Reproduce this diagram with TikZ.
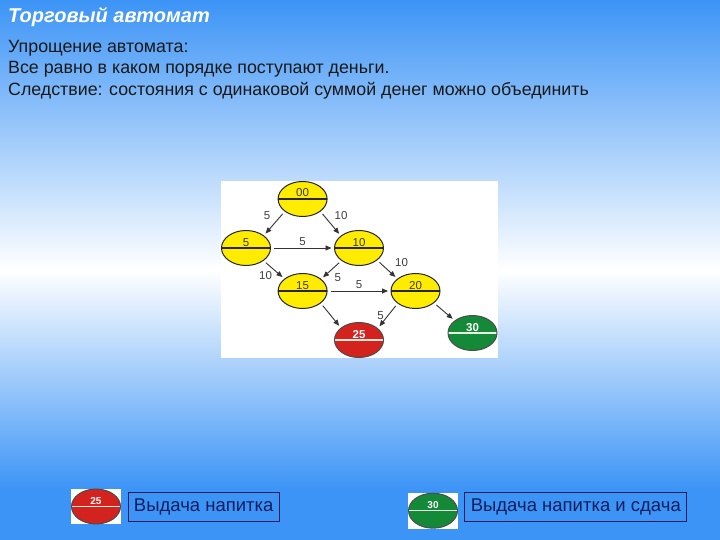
\documentclass[tikz,border=0pt]{standalone}
\usepackage{fontspec}
\setmainfont{Liberation Sans}
\usetikzlibrary{shapes.geometric,arrows.meta,positioning}

\definecolor{bgblue}{RGB}{60,148,246}
\definecolor{stateyellow}{RGB}{255,236,0}
\definecolor{statered}{RGB}{212,34,30}
\definecolor{stategreen}{RGB}{20,138,56}
\definecolor{boxnavy}{RGB}{14,30,92}
\definecolor{digitgray}{RGB}{60,60,40}

\begin{document}
\begin{tikzpicture}[x=1pt,y=-1pt,
    state/.style n args={3}{ellipse,fill=#1,draw=#2,line width=1pt,
      minimum width=49pt,minimum height=35pt,inner sep=0pt,
      text height=0pt,text depth=0pt,
      path picture={\draw[line width=1.2pt,#3]
        (path picture bounding box.west) -- (path picture bounding box.east);}},
    yellowstate/.style={state={stateyellow}{black!85}{black!85},text=digitgray,
      font=\fontsize{11.5}{11.5}\selectfont},
    redstate/.style={state={statered}{black!70}{orange!15},text=white,
      font=\fontsize{11.5}{11.5}\selectfont\bfseries},
    greenstate/.style={state={stategreen}{black!70}{green!10},text=white,
      font=\fontsize{11.5}{11.5}\selectfont\bfseries},
    trans/.style={draw=black!80,line width=0.9pt,-{Triangle[length=6pt,width=5pt]},
      shorten <=3pt,shorten >=2.5pt},
    coin/.style={font=\fontsize{11.5}{11.5}\selectfont,text=black!75,inner sep=1.5pt},
    legend/.style={draw=boxnavy,line width=1pt,text=boxnavy,minimum height=29pt,
      inner sep=0pt,font=\fontsize{18.5}{20}\selectfont},
    slide/.style={anchor=base west,inner sep=0pt,text=black!90,
      font=\fontsize{17.8}{20}\selectfont}]

  % background
  \shade[top color=bgblue,bottom color=white] (0,0) rectangle (720,270);
  \shade[top color=white,bottom color=bgblue] (0,270) rectangle (720,490);
  \fill[bgblue] (0,490) rectangle (720,540);
  \useasboundingbox (0,0) rectangle (720,540);

  % heading and text
  \node[anchor=base west,inner sep=0pt,text=white,
    font=\fontsize{20}{22}\selectfont\bfseries\itshape] (title) at (8,23) {Торговый автомат};
  \node[slide] (line1) at (8,52.3) {Упрощение автомата:};
  \node[slide] (line2) at (8,74) {Все равно в каком порядке поступают деньги.};
  \node[slide] (line3) at (8,95.7) {Следствие: состояния с одинаковой суммой денег можно объединить};

  % automaton
  \fill[white] (221,181) rectangle (498,358);
  \foreach \i/\x/\y in {00/302.6/199, 5/246/248, 10/359/248, 15/302.6/291, 20/415.5/291} {
    \node[yellowstate] (s\i) at (\x,\y) {\raisebox{2pt}{\i}};
  }
  \node[redstate] (s25) at (359,340) {\raisebox{2pt}{25}};
  \node[greenstate] (s30) at (472.5,333) {\raisebox{2pt}{30}};

  \draw[trans] (s00.215) -- node[coin,above left=3pt] {5} (s5.35);
  \draw[trans] (s00.325) -- node[coin,above right=3pt] {10} (s10.146);
  \draw[trans] (s5) -- node[coin,above] {5} (s10);
  \draw[trans] (s5.324) -- node[coin,below left=0pt] {10} (s15.146);
  \draw[trans] (s10.216) -- node[coin,below right=2pt] {5} (s15.33);
  \draw[trans] (s10.326) -- node[coin,above right=1pt and 6pt] {10} (s20.146);
  \draw[trans] (s15) -- node[coin,above] {5} (s20);
  \draw[trans] (s20.215) -- node[coin,left=2pt] {5} (s25.32);
  \draw[trans] (s15.326) -- (s25.146);
  \draw[trans] (s20.327) -- (s30.145);

  % legend
  \fill[white] (71,489) rectangle (121,524);
  \node[redstate,font=\fontsize{10}{10}\selectfont\bfseries] (leg25) at (96,506.5) {\raisebox{2pt}{25}};
  \node[legend,minimum width=151pt,anchor=west] (legdrink) at (127.7,506.8) {Выдача напитка};
  \fill[white] (408,493) rectangle (458,528.5);
  \node[greenstate,font=\fontsize{10}{10}\selectfont\bfseries] (leg30) at (433,510.7) {\raisebox{2pt}{30}};
  \node[legend,minimum width=222pt,anchor=west] (legchange) at (464.3,507) {Выдача напитка и сдача};
\end{tikzpicture}
\end{document}
